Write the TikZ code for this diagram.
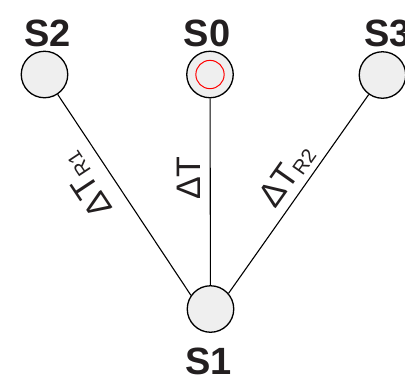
\documentclass[tikz,border=0pt]{standalone}
\usepackage{fontspec}
\setmainfont{Liberation Sans}
\definecolor{nodefill}{HTML}{EFEFEF}
\definecolor{inkc}{HTML}{231F20}
\newcommand{\subR}[1]{\raisebox{-3pt}{\fontsize{20}{24}\selectfont #1}}
\begin{document}
\begin{tikzpicture}[x=1pt,y=-1pt,
  stn/.style={circle,draw=black,fill=nodefill,line width=1.3pt,minimum size=46.5pt,inner sep=0pt},
  inner/.style={circle,draw=red,line width=1pt,minimum size=28.3pt,inner sep=0pt},
  lab/.style={inner sep=0pt,text=inkc,font=\fontsize{38}{44}\selectfont\bfseries},
  dl/.style={inner sep=0pt,text=inkc,font=\fontsize{34}{40}\selectfont},
  conn/.style={draw=black,line width=1.1pt}]
\useasboundingbox (0,0) rectangle (405,376);
\fill[white] (0,0) rectangle (405,376);
% stations
\node[stn] (s2) at (44.5,74.5) {};
\node[stn] (s0) at (210,74.5) {};
\node[inner] (s0in) at (210,74.5) {};
\node[stn] (s3) at (382.5,75) {};
\node[stn] (s1) at (210.5,309) {};
% labels
\node[lab,anchor=base] (l2) at (47.3,46.7) {S2};
\node[lab,anchor=base] (l0) at (207,46.7) {S0};
\node[lab,anchor=base west] (l3) at (364,46.7) {S3};
\node[lab,anchor=base] (l1) at (208.5,374) {S1};
% connectors
\draw[conn] (s1.145) -- (s2);
\draw[conn] (s1) -- (s0);
\draw[conn] (s1.41) -- (s3);
% connector labels
\node[dl,rotate=90,anchor=base west] (d0) at (200,200) {ΔT};
\node[dl,rotate=54.8,anchor=base west] (d3) at (275,210) {ΔT\subR{R2}};
\node[dl,rotate=123.5,anchor=base west] (d2) at (113.3,209) {ΔT\subR{R1}};
\end{tikzpicture}
\end{document}
